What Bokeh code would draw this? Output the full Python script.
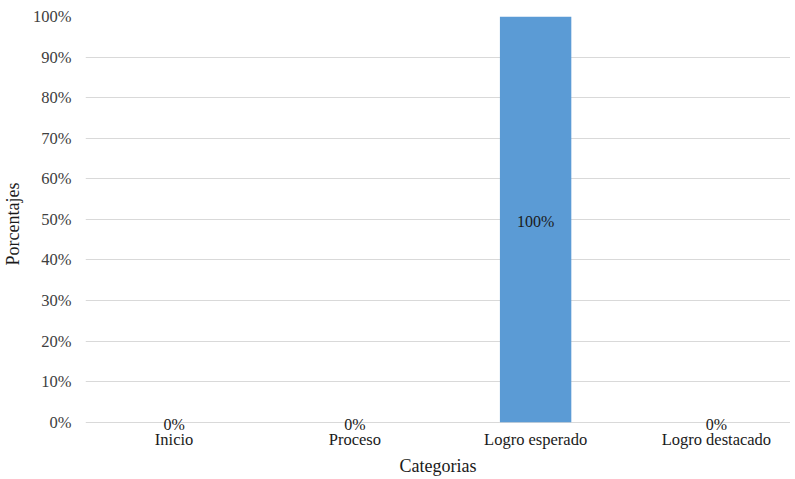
from bokeh.plotting import figure
from bokeh.models import Range1d, FixedTicker, ColumnDataSource, LabelSet
from bokeh.embed import file_html
from bokeh.resources import INLINE

categories = ["Inicio", "Proceso", "Logro esperado", "Logro destacado"]
percentages = [0, 0, 100, 0]
y_ticks = [0, 10, 20, 30, 40, 50, 60, 70, 80, 90, 100]

FONT = "Liberation Serif"
GRID = "#d9d9d9"
BAR = "#5b9bd5"

xs = list(range(len(categories)))
src = ColumnDataSource(dict(
    x=xs,
    top=percentages,
    label_y=[v / 2 for v in percentages],
    label=[f"{v}%" for v in percentages],
))

p = figure(width=790, height=478, output_backend="svg", toolbar_location=None,
           x_range=Range1d(-0.49, 3.41), y_range=Range1d(-2.3, 100),
           min_border_left=79, min_border_right=0, min_border_top=16,
           min_border_bottom=47)
p.outline_line_color = None
p.background_fill_color = "white"

p.vbar(x="x", top="top", bottom=0, width=0.395, source=src, fill_color=BAR,
       line_color=None)
labels = LabelSet(x="x", y="label_y", text="label", source=src,
                  text_align="center", text_baseline="middle", y_offset=-2,
                  text_font=FONT, text_font_size="16px", text_color="#1a1a1a")
p.add_layout(labels)

# y axis
p.yaxis.ticker = FixedTicker(ticks=y_ticks)
p.yaxis.major_label_overrides = {t: f"{t}%" for t in y_ticks}
p.yaxis.axis_line_color = None
p.yaxis.major_tick_line_color = None
p.yaxis.minor_tick_line_color = None
p.yaxis.major_label_text_font = FONT
p.yaxis.major_label_text_font_size = "16.5px"
p.yaxis.major_label_text_color = "#404040"
p.yaxis.major_label_standoff = 8
p.yaxis.axis_label = "Porcentajes"
p.yaxis.axis_label_text_font = FONT
p.yaxis.axis_label_text_font_size = "18px"
p.yaxis.axis_label_text_font_style = "normal"
p.yaxis.axis_label_text_color = "#1a1a1a"
p.yaxis.axis_label_standoff = 7

# x axis
p.xaxis.ticker = FixedTicker(ticks=xs)
p.xaxis.major_label_overrides = {i: c for i, c in zip(xs, categories)}
p.xaxis.axis_line_color = None
p.xaxis.major_tick_line_color = None
p.xaxis.minor_tick_line_color = None
p.xaxis.major_label_text_font = FONT
p.xaxis.major_label_text_font_size = "16.5px"
p.xaxis.major_label_text_color = "#1a1a1a"
p.xaxis.major_label_standoff = -8
p.xaxis.axis_label = "Categorias"
p.xaxis.axis_label_text_font = FONT
p.xaxis.axis_label_text_font_size = "18px"
p.xaxis.axis_label_text_font_style = "normal"
p.xaxis.axis_label_text_color = "#1a1a1a"
p.xaxis.axis_label_standoff = 4

p.xgrid.grid_line_color = None
p.ygrid.grid_line_color = GRID
p.ygrid.grid_line_width = 1

open("out.html", "w").write(file_html(p, INLINE))
